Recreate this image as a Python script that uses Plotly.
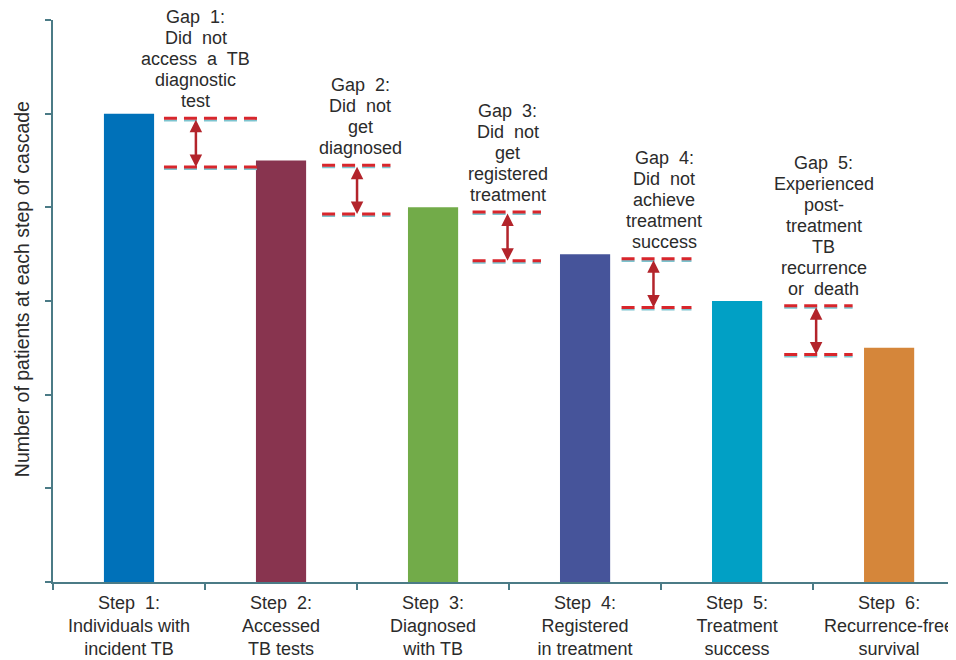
import plotly.graph_objects as go

# ---- data ----
steps = [
    "Step  1:<br>Individuals with<br>incident TB",
    "Step  2:<br>Accessed<br>TB tests",
    "Step  3:<br>Diagnosed<br>with TB",
    "Step  4:<br>Registered<br>in treatment",
    "Step  5:<br>Treatment<br>success",
    "Step  6:<br>Recurrence-free<br>survival",
]
values = [5.0, 4.5, 4.0, 3.5, 3.0, 2.5]
bar_colors = ["#0071b9", "#88344f", "#72ab49", "#46549a", "#01a0c5", "#d5863a"]
gap_labels = [
    ["Gap  1:", "Did  not", "access  a  TB", "diagnostic", "test"],
    ["Gap  2:", "Did  not", "get", "diagnosed"],
    ["Gap  3:", "Did  not", "get", "registered", "treatment"],
    ["Gap  4:", "Did  not", "achieve", "treatment", "success"],
    ["Gap  5:", "Experienced", "post-", "treatment", "TB", "recurrence", "or  death"],
]
y_title = "Number of patients at each step of cascade"

# ---- layout helpers (positions in category units) ----
gap_x0 = [0.23, 1.27, 2.26, 3.24, 4.31]
gap_x1 = [0.87, 1.72, 2.71, 3.70, 4.76]
gap_xc = [0.44, 1.52, 2.49, 3.52, 4.57]
arrow_x = [0.44, 1.50, 2.49, 3.45, 4.52]

AXIS = "#4b7b86"
RED = "#d8262c"
DARKRED = "#b3242b"
FONT = "Liberation Sans, Arial, sans-serif"
NARROW = "Liberation Sans Narrow, Arial Narrow, Liberation Sans, sans-serif"
TXT = "#2b2b2b"
LINE_H = 21

fig = go.Figure()
fig.add_trace(go.Bar(
    x=steps, y=values, width=0.33,
    marker=dict(color=bar_colors, line=dict(width=0)),
    hoverinfo="skip",
))

shapes = []
annotations = []
for i in range(5):
    top = values[i] - 0.05
    bot = values[i + 1] - 0.07
    for yy in (top, bot):
        shapes.append(dict(type="line", xref="x", yref="y",
                           x0=gap_x0[i], x1=gap_x1[i], y0=yy - 0.022, y1=yy - 0.022,
                           line=dict(color="#7cc4cf", width=2, dash="13px,7px")))
        shapes.append(dict(type="line", xref="x", yref="y",
                           x0=gap_x0[i], x1=gap_x1[i], y0=yy, y1=yy,
                           line=dict(color=RED, width=3, dash="13px,7px")))
    annotations.append(dict(
        x=arrow_x[i], y=bot, ax=arrow_x[i], ay=top,
        xref="x", yref="y", axref="x", ayref="y",
        text="", showarrow=True, arrowhead=2, arrowside="end+start",
        arrowsize=1, arrowwidth=2.5, arrowcolor=DARKRED,
        standoff=0, startstandoff=0,
    ))
    lines = gap_labels[i]
    n = len(lines)
    for k, ln in enumerate(lines):
        fam = NARROW if ln == "Experienced" else FONT
        annotations.append(dict(
            x=gap_xc[i], y=top, xref="x", yref="y",
            text=ln, showarrow=False,
            xanchor="center", yanchor="bottom",
            yshift=5 + (n - 1 - k) * LINE_H,
            align="center", font=dict(family=fam, size=18, color=TXT),
        ))

annotations.append(dict(
    x=-31 / 903, y=0.521, xref="paper", yref="paper",
    text=y_title, textangle=-90, showarrow=False,
    xanchor="center", yanchor="middle",
    font=dict(family=FONT, size=19.5, color=TXT),
))

fig.update_layout(
    width=956, height=660,
    margin=dict(l=45, r=8, t=12, b=86, autoexpand=False),
    paper_bgcolor="white", plot_bgcolor="white",
    showlegend=False,
    shapes=shapes, annotations=annotations,
    font=dict(family=FONT, size=18, color=TXT),
)
fig.update_xaxes(
    type="category", range=[-0.5, 5.44],
    showline=True, linecolor=AXIS, linewidth=2,
    ticks="outside", tickson="boundaries", ticklen=6, tickcolor=AXIS, tickwidth=2,
    ticklabelstandoff=3,
    showgrid=False, zeroline=False, automargin=False,
    tickfont=dict(family=FONT, size=18, color=TXT),
)
fig.update_yaxes(
    range=[0, 6], dtick=1, tick0=0,
    showline=True, linecolor=AXIS, linewidth=2,
    ticks="outside", ticklen=6, tickcolor=AXIS, tickwidth=2,
    showticklabels=False, showgrid=False, zeroline=False, automargin=False,
)

fig.write_html("out.html")
